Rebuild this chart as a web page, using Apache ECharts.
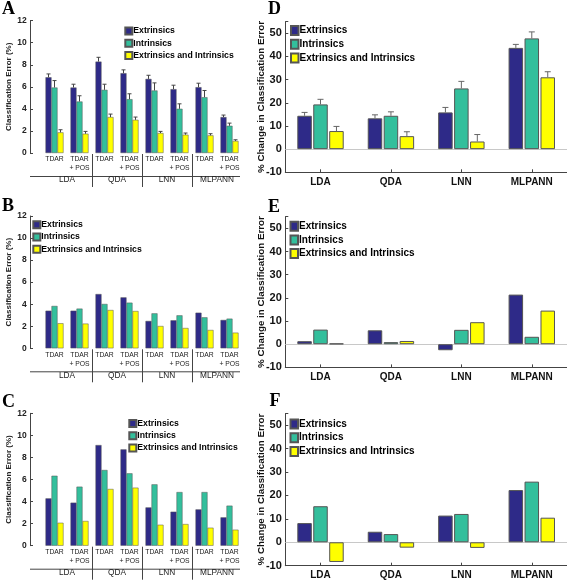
<!DOCTYPE html>
<html><head><meta charset="utf-8">
<script src="https://cdn.jsdelivr.net/npm/echarts@6/dist/echarts.min.js"></script>
<style>html,body{margin:0;padding:0;background:#fff}#c{width:567px;height:582px}</style>
</head><body><div id="c"></div>
<script>
// ---------- data ----------
const seriesNames = ['Extrinsics', 'Intrinsics', 'Extrinsics and Intrinsics'];
const leftTickLabels = ['TDAR', 'TDAR\n+ POS', 'TDAR', 'TDAR\n+ POS', 'TDAR', 'TDAR\n+ POS', 'TDAR', 'TDAR\n+ POS'];
const groupLabels = ['LDA', 'QDA', 'LNN', 'MLPANN'];
const classifiers = ['LDA', 'QDA', 'LNN', 'MLPANN'];
const leftYName = 'Classification Error (%)';
const rightYName = '% Change in Classification Error';
const panelLetters = ['A', 'B', 'C', 'D', 'E', 'F'];

// Panel A (with error bars)
const aExt = [6.87, 5.94, 8.29, 7.24, 6.72, 5.79, 5.97, 3.26];
const aExtErr = [0.30, 0.30, 0.39, 0.30, 0.33, 0.36, 0.36, 0.18];
const aInt = [5.94, 4.67, 5.73, 4.88, 5.67, 4.01, 5.06, 2.47];
const aIntErr = [0.63, 0.52, 0.51, 0.49, 0.69, 0.45, 0.61, 0.24];
const aBoth = [1.87, 1.75, 3.26, 3.01, 1.81, 1.66, 1.60, 1.09];
const aBothErr = [0.24, 0.21, 0.27, 0.25, 0.15, 0.15, 0.15, 0.11];
// Panel B
const bExt = [3.41, 3.41, 4.92, 4.62, 2.48, 2.54, 3.23, 2.57];
const bInt = [3.84, 3.60, 4.02, 4.14, 3.17, 2.99, 2.81, 2.69];
const bBoth = [2.27, 2.24, 3.47, 3.38, 2.02, 1.84, 1.66, 1.42];
// Panel C
const cExt = [4.29, 3.90, 9.12, 8.73, 3.47, 3.08, 3.29, 2.57];
const cInt = [6.34, 5.35, 6.86, 6.56, 5.56, 4.86, 4.86, 3.63];
const cBoth = [2.08, 2.24, 5.14, 5.26, 1.90, 1.96, 1.63, 1.45];
// Panel D (with error bars)
const dExt = [14.4, 13.3, 15.85, 43.7];
const dExtErr = [1.45, 1.5, 2.15, 1.5];
const dInt = [19.3, 14.4, 26.2, 47.8];
const dIntErr = [2.2, 1.7, 3.05, 2.8];
const dBoth = [7.8, 5.6, 3.3, 31.0];
const dBothErr = [2.0, 1.9, 3.0, 2.4];
// Panel E
const eExt = [1.3, 6.0, -2.6, 21.4];
const eInt = [6.3, 0.9, 6.2, 3.2];
const eBoth = [0.3, 1.4, 9.5, 14.5];
// Panel F
const fExt = [8.2, 4.5, 11.4, 22.3];
const fInt = [15.4, 3.5, 12.1, 25.9];
const fBoth = [-8.4, -2.3, -2.4, 10.5];

const leftY = {min: 0, max: 12, step: 2};
const rightY = {min: -10, max: 55, step: 10};

// ---------- styling / layout ----------
const colors = ['#2e2a88', '#33bf9c', '#ffff00'];
const FONT = 'Liberation Sans';
const leftLayout = [
  {left: 42, top: 20.7, width: 200, height: 132.3},
  {left: 42, top: 216, width: 200, height: 132.3},
  {left: 42, top: 413.3, width: 200, height: 132.4}
];
const rightLayout = [
  {left: 285.3, top: 21.7, width: 287, height: 150.6},
  {left: 285.3, top: 216.7, width: 287, height: 150.7},
  {left: 285.3, top: 413.5, width: 287, height: 152.2}
];
const leftLegends = [{left: 124.3, top: 26.5}, {left: 32.3, top: 220.3}, {left: 128.3, top: 419}];
const rightLegends = [{left: 290, top: 25}, {left: 289.5, top: 220.7}, {left: 289.5, top: 418.5}];
const Y_OFFSET_LEFT = 12;
const LBW = 6, LGAP = 0;        // left bar width / gap fraction
const RBW = 14.5, RGAP = 0.1;   // right bar width / gap fraction

const leftData = [[aExt, aInt, aBoth], [bExt, bInt, bBoth], [cExt, cInt, cBoth]];
const rightData = [[dExt, dInt, dBoth], [eExt, eInt, eBoth], [fExt, fInt, fBoth]];
const leftErr = [[aExtErr, aIntErr, aBothErr], null, null];
const rightErr = [[dExtErr, dIntErr, dBothErr], null, null];

const chart = echarts.init(document.getElementById('c'), null, {renderer: 'canvas'});

const grid = [], xAxis = [], yAxis = [], series = [], legend = [];

function errSeries(gi, vals, errs, off, cap, color) {
  return {
    type: 'custom', name: 'err' + gi + '_' + off, xAxisIndex: gi, yAxisIndex: gi, z: 5, silent: true,
    data: vals.map((v, k) => [k, v, errs[k]]),
    renderItem: function (params, api) {
      const k = api.value(0), v = api.value(1), e = api.value(2);
      const p0 = api.coord([k, v]);
      const p1 = api.coord([k, v + e]);
      const x = p0[0] + off;
      const st = {stroke: color, lineWidth: 1};
      return {type: 'group', children: [
        {type: 'line', shape: {x1: x, y1: p0[1], x2: x, y2: p1[1]}, style: st},
        {type: 'line', shape: {x1: x - cap, y1: p1[1], x2: x + cap, y2: p1[1]}, style: st}
      ]};
    }
  };
}

function legendFor(pos, iw, ih, pitch, fs) {
  return {
    orient: 'vertical', left: pos.left, top: pos.top, padding: 0,
    itemWidth: iw, itemHeight: ih, itemGap: pitch - ih, icon: 'rect', selectedMode: false,
    data: seriesNames,
    textStyle: {fontFamily: FONT, fontSize: fs, fontWeight: 'bold', color: '#000', lineHeight: ih, padding: [0, 0, 0, -4]}
  };
}

// left panels
for (let i = 0; i < 3; i++) {
  const gi = i;
  grid.push(Object.assign({containLabel: false}, leftLayout[i]));
  xAxis.push({
    gridIndex: gi, type: 'category', data: leftTickLabels,
    axisLine: {show: false}, axisTick: {show: false},
    axisLabel: {fontFamily: FONT, fontSize: 6.8, color: '#222', lineHeight: 9, margin: 2, interval: 0}
  });
  yAxis.push({
    gridIndex: gi, type: 'value', min: leftY.min, max: leftY.max, interval: leftY.step, offset: Y_OFFSET_LEFT,
    axisLine: {show: true, lineStyle: {color: '#444', width: 1}},
    axisTick: {show: true, inside: true, length: 3, lineStyle: {color: '#444'}},
    axisLabel: {fontFamily: FONT, fontSize: 8.5, fontWeight: 'bold', color: '#222', margin: 3.3},
    splitLine: {show: false},
    name: leftYName, nameLocation: 'middle', nameGap: 17.5, nameMoveOverlap: false,
    nameTextStyle: {fontFamily: FONT, fontSize: 8, fontWeight: 'bold', color: '#222'}
  });
  const offs = [-(LBW + LGAP * LBW), 0, LBW + LGAP * LBW];
  leftData[i].forEach((vals, s) => {
    series.push({
      type: 'bar', name: seriesNames[s], xAxisIndex: gi, yAxisIndex: gi, data: vals,
      barWidth: LBW, barGap: (LGAP * 100) + '%',
      itemStyle: {color: colors[s], borderColor: '#555', borderWidth: 0.5},
      silent: true
    });
    if (leftErr[i]) series.push(errSeries(gi, vals, leftErr[i][s], offs[s], 2, '#444'));
  });
  legend.push(legendFor(leftLegends[i], 7, 7, 10.25, 8.7));
}

// right panels
for (let j = 0; j < 3; j++) {
  const gi = 3 + j;
  grid.push(Object.assign({containLabel: false}, rightLayout[j]));
  xAxis.push({
    gridIndex: gi, type: 'category', data: classifiers,
    axisLine: {show: true, onZero: false, lineStyle: {color: '#444', width: 1}},
    axisTick: {show: true, inside: true, alignWithLabel: true, length: 3, lineStyle: {color: '#444'}},
    axisLabel: {fontFamily: FONT, fontSize: 10, fontWeight: 'bold', color: '#111', margin: 5}
  });
  yAxis.push({
    gridIndex: gi, type: 'value', min: rightY.min, max: rightY.max, interval: rightY.step,
    axisLine: {show: true, lineStyle: {color: '#444', width: 1}},
    axisTick: {show: true, inside: true, length: 3, lineStyle: {color: '#444'}},
    axisLabel: {fontFamily: FONT, fontSize: 11, fontWeight: 'bold', color: '#111', margin: 3.5,
      formatter: v => (v > 50 ? '' : String(v))},
    splitLine: {show: false},
    name: rightYName, nameLocation: 'middle', nameGap: 18.6, nameMoveOverlap: false,
    nameTextStyle: {fontFamily: FONT, fontSize: 9.8, fontWeight: 'bold', color: '#111'}
  });
  const offs = [-(RBW + RGAP * RBW), 0, RBW + RGAP * RBW];
  rightData[j].forEach((vals, s) => {
    const sr = {
      type: 'bar', name: seriesNames[s], xAxisIndex: gi, yAxisIndex: gi, data: vals,
      barWidth: RBW, barGap: (RGAP * 100) + '%',
      itemStyle: {color: colors[s], borderColor: '#555', borderWidth: 1},
      silent: true
    };
    if (s === 0) {
      sr.markLine = {silent: true, symbol: 'none', label: {show: false}, z: 1,
        lineStyle: {color: '#c8c8c8', width: 1, type: 'solid'}, data: [{yAxis: 0}]};
    }
    series.push(sr);
    if (rightErr[j]) series.push(errSeries(gi, vals, rightErr[j][s], offs[s], 3, '#666'));
  });
  legend.push(legendFor(rightLegends[j], 7.5, 9, 11.7, 10));
}

chart.setOption({
  animation: false,
  textStyle: {fontFamily: FONT},
  grid, xAxis, yAxis, series, legend
});

// ---------- group annotations for left panels, derived from the axes ----------
const graphics = [];
const letterPos = [[2, 9], [2, 206], [2, 402.5], [268, 9], [268, 207.5], [269.5, 401.5]];
panelLetters.forEach((L, k) => {
  graphics.push({type: 'text', left: letterPos[k][0], top: letterPos[k][1] - 9, silent: true,
    style: {text: L, font: 'bold 18px "Liberation Serif"', fill: '#000'}});
});
for (let i = 0; i < 3; i++) {
  const xs = leftTickLabels.map((_, k) => chart.convertToPixel({xAxisIndex: i}, k));
  const band = xs[1] - xs[0];
  const y0 = chart.convertToPixel({yAxisIndex: i}, 0);
  const lineY = y0 + 23.5;
  graphics.push({type: 'line', silent: true,
    shape: {x1: xs[0] - band / 2 - Y_OFFSET_LEFT, y1: lineY, x2: xs[xs.length - 1] + band / 2 - 2, y2: lineY},
    style: {stroke: '#444', lineWidth: 1}});
  for (let g = 0; g < groupLabels.length; g++) {
    const cx = (xs[2 * g] + xs[2 * g + 1]) / 2;
    graphics.push({type: 'text', silent: true, x: cx, y: y0 + 27,
      style: {text: groupLabels[g], fill: '#222', font: '8.3px "Liberation Sans"', align: 'center', verticalAlign: 'middle'}});
    if (g < groupLabels.length - 1) {
      const sx = Math.round(xs[2 * g + 1] + band / 2) + 0.5;
      graphics.push({type: 'line', silent: true,
        shape: {x1: sx, y1: y0 + 1, x2: sx, y2: y0 + 34},
        style: {stroke: '#444', lineWidth: 1}});
    }
  }
}
chart.setOption({graphic: graphics});
</script>
</body></html>
